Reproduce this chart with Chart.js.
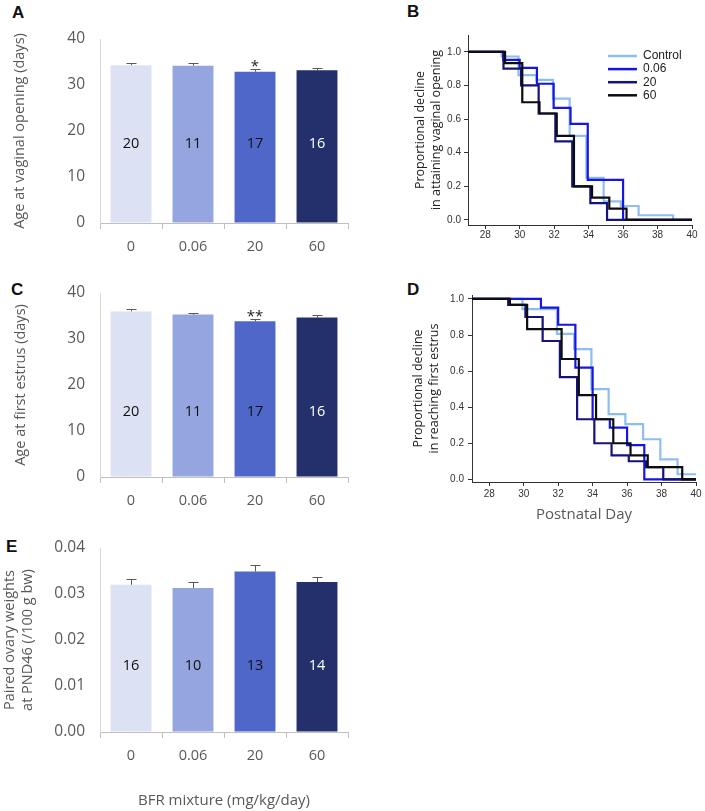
<!DOCTYPE html>
<html>
<head>
<meta charset="utf-8">
<script src="https://cdn.jsdelivr.net/npm/chart.js@4.4.0/dist/chart.umd.min.js"></script>
<style>
    body { margin: 0; background: #fff; width: 705px; height: 811px; position: relative; overflow: hidden; }
    .panel { position: absolute; }
    .tag { position: absolute; font: bold 17px "Liberation Sans", Arial, sans-serif; line-height: 17px; color: #111; }
</style>
</head>
<body>
<div class="tag" style="left:12px;top:4px">A</div>
<div class="tag" style="left:407px;top:3px">B</div>
<div class="tag" style="left:11px;top:281px">C</div>
<div class="tag" style="left:407px;top:281px">D</div>
<div class="tag" style="left:6px;top:538px">E</div>

<div class="panel" style="left:0;top:0"><canvas id="chartA" width="360" height="265"></canvas></div>
<div class="panel" style="left:380px;top:0"><canvas id="chartB" width="325" height="260"></canvas></div>
<div class="panel" style="left:0;top:250px"><canvas id="chartC" width="360" height="269"></canvas></div>
<div class="panel" style="left:380px;top:270px"><canvas id="chartD" width="325" height="270"></canvas></div>
<div class="panel" style="left:0;top:505px"><canvas id="chartE" width="360" height="306"></canvas></div>

<script>
// Dose groups (BFR mixture, mg/kg/day)
const categories = ['0', '0.06', '20', '60'];
const groups = ['Control', '0.06', '20', '60'];

// Bar panels: mean, upper error, n per group, significance marks
const vaginalOpening = [34.3, 34.2, 32.9, 33.2];
const vaginalOpeningErr = [0.55, 0.55, 0.5, 0.45];
const vaginalOpeningN = [20, 11, 17, 16];
const vaginalOpeningSig = ['', '', '*', ''];

const firstEstrus = [36.0, 35.3, 33.85, 34.65];
const firstEstrusErr = [0.5, 0.35, 0.5, 0.55];
const firstEstrusN = [20, 11, 17, 16];
const firstEstrusSig = ['', '', '**', ''];

const ovaryWeight = [0.0320, 0.0313, 0.0349, 0.0326];
const ovaryWeightErr = [0.0013, 0.0014, 0.0015, 0.0012];
const ovaryWeightN = [16, 10, 13, 14];
const ovaryWeightSig = ['', '', '', ''];

// Tick labels
const ageTicks = [0, 10, 20, 30, 40];
const ovaryTicks = [0, 0.01, 0.02, 0.03, 0.04];
const dayTicks = [28, 30, 32, 34, 36, 38, 40];
const propTicks = [0, 0.2, 0.4, 0.6, 0.8, 1.0];

// Survival curves, vaginal opening (panel B): day of event, proportion remaining
const voDaysCtrl = [27, 28.95, 29.93, 30.97, 31.93, 32.9, 33.87, 34.87, 35.87, 36.9, 38.9, 40];
const voSurvCtrl = [1, 0.972, 0.861, 0.833, 0.722, 0.5, 0.25, 0.111, 0.083, 0.028, 0, 0];
const voDaysLow = [27, 29.05, 30.0, 31.0, 31.97, 32.95, 33.95, 36.0, 40];
const voSurvLow = [1, 0.952, 0.905, 0.81, 0.667, 0.571, 0.238, 0, 0];
const voDaysMid = [27, 29.06, 30.08, 31.1, 32.07, 33.05, 34.1, 35.07, 40];
const voSurvMid = [1, 0.9, 0.8, 0.633, 0.467, 0.2, 0.1, 0, 0];
const voDaysHigh = [27, 29.15, 30.15, 31.15, 32.15, 33.15, 34.2, 35.2, 36.2, 40];
const voSurvHigh = [1, 0.933, 0.7, 0.633, 0.5, 0.2, 0.133, 0.067, 0, 0];

// Survival curves, first estrus (panel D)
const feDaysCtrl = [27, 29.93, 31.93, 32.93, 33.93, 34.93, 35.9, 36.93, 37.93, 38.93, 40];
const feSurvCtrl = [1, 0.944, 0.806, 0.722, 0.5, 0.361, 0.306, 0.222, 0.111, 0.028, 0.028];
const feDaysLow = [27, 31.0, 32.0, 33.0, 34.0, 35.0, 36.0, 37.0, 40];
const feSurvLow = [1, 0.952, 0.857, 0.619, 0.333, 0.286, 0.19, 0, 0];
const feDaysMid = [27, 29.1, 30.1, 31.1, 32.1, 33.1, 34.1, 35.1, 36.1, 37.1, 38.1, 40];
const feSurvMid = [1, 0.967, 0.9, 0.767, 0.567, 0.333, 0.2, 0.133, 0.1, 0.067, 0, 0];
const feDaysHigh = [27, 29.2, 30.2, 32.2, 33.2, 34.2, 35.2, 36.2, 37.2, 39.2, 40];
const feSurvHigh = [1, 0.967, 0.833, 0.667, 0.467, 0.333, 0.2, 0.133, 0.067, 0, 0];

// Styles
const barColors = ['#dce1f3', '#95a5df', '#4f67c8', '#23306b'];
const countColors = ['#111', '#111', '#111', '#fff'];
const kmColors = ['#8dbdf1', '#1616e4', '#14147c', '#0d0d0d'];
const FONT = '"Open Sans", sans-serif';
const GREY = '#595959';

// error bars, n inside the bars and significance stars
const barExtras = (errors, counts, marks, countAt) => ({
    id: 'barExtras',
    afterDatasetsDraw(chart) {
        const { ctx, scales: { y } } = chart;
        const values = chart.data.datasets[0].data;
        ctx.save();
        chart.getDatasetMeta(0).data.forEach((bar, i) => {
            const base = y.getPixelForValue(values[i]);
            const top = Math.round(y.getPixelForValue(values[i] + errors[i])) + 0.5;
            const cx = Math.round(bar.x) + 0.5;
            ctx.strokeStyle = GREY;
            ctx.lineWidth = 1;
            ctx.beginPath();
            ctx.moveTo(cx, base);
            ctx.lineTo(cx, top);
            ctx.moveTo(cx - 5, top);
            ctx.lineTo(cx + 5, top);
            ctx.stroke();

            ctx.font = '14.5px ' + FONT;
            ctx.textAlign = 'center';
            ctx.textBaseline = 'middle';
            ctx.fillStyle = countColors[i];
            ctx.fillText(String(counts[i]), bar.x, y.getPixelForValue(countAt));

            if (marks[i]) {
                ctx.fillStyle = '#222';
                ctx.textBaseline = 'alphabetic';
                ctx.font = '15px ' + FONT;
                ctx.fillText(marks[i], bar.x, top + 1);
            }
        });
        ctx.restore();
    }
});

const makeBar = (id, cfg) => new Chart(document.getElementById(id), {
    type: 'bar',
    data: {
        labels: categories,
        datasets: [{
            data: cfg.values,
            backgroundColor: barColors,
            borderWidth: 0,
            barPercentage: 0.66,
            categoryPercentage: 1
        }]
    },
    options: {
        responsive: false,
        animation: false,
        layout: { padding: { top: cfg.top, right: 12, left: 0, bottom: 0 } },
        plugins: { legend: { display: false }, tooltip: { enabled: false } },
        scales: {
            x: {
                grid: { offset: true, drawOnChartArea: false, tickLength: 6, color: '#bfbfbf' },
                border: { color: '#bfbfbf' },
                ticks: { color: GREY, font: { family: FONT, size: 14.5 }, padding: 9 },
                title: cfg.xTitle
                    ? { display: true, text: cfg.xTitle, color: GREY, font: { family: FONT, size: 15 }, padding: { top: 0, bottom: 1 } }
                    : { display: false },
                afterFit: (s) => { s.height = cfg.xHeight; }
            },
            y: {
                min: cfg.ticks[0],
                max: cfg.ticks[cfg.ticks.length - 1],
                afterBuildTicks: (s) => { s.ticks = cfg.ticks.map(v => ({ value: v })); },
                grid: { drawOnChartArea: false, drawTicks: false },
                border: { color: '#d9d9d9' },
                ticks: { color: GREY, font: { family: FONT, size: 15.5 }, padding: 15, callback: (v) => cfg.fmt(v) },
                title: {
                    display: true, text: cfg.yTitle, color: GREY,
                    font: { family: FONT, size: 14.5, lineHeight: 1.25 },
                    padding: { top: cfg.titlePad, bottom: 0 }
                },
                afterFit: (s) => { s.width = 100; }
            }
        }
    },
    plugins: [barExtras(cfg.errors, cfg.counts, cfg.marks, cfg.countAt)]
});

// legend drawn inside the plot area of panel B
const kmLegend = (x, y, gap) => ({
    id: 'kmLegend',
    afterDraw(chart) {
        const { ctx } = chart;
        ctx.save();
        ctx.font = '12px "Liberation Sans", Arial, sans-serif';
        ctx.textBaseline = 'middle';
        ctx.textAlign = 'left';
        groups.forEach((g, i) => {
            const yy = y + i * gap;
            ctx.strokeStyle = kmColors[i];
            ctx.lineWidth = 2.5;
            ctx.beginPath();
            ctx.moveTo(x, yy);
            ctx.lineTo(x + 29, yy);
            ctx.stroke();
            ctx.fillStyle = '#222';
            ctx.fillText(g, x + 35, yy);
        });
        ctx.restore();
    }
});

const makeKM = (id, cfg) => {
    // last group first so the black curve is painted on top
    const datasets = cfg.curves.map((c, i) => ({
        label: groups[i],
        data: c[0].map((t, k) => ({ x: t, y: c[1][k] })),
        borderColor: kmColors[i],
        borderWidth: 2.2,
        stepped: 'before',
        pointRadius: 0,
        fill: false
    })).reverse();

    return new Chart(document.getElementById(id), {
        type: 'line',
        data: { datasets },
        options: {
            responsive: false,
            animation: false,
            layout: { padding: { top: cfg.top, right: cfg.right, left: 0, bottom: 0 } },
            plugins: { legend: { display: false }, tooltip: { enabled: false } },
            scales: {
                x: {
                    type: 'linear', min: 27, max: 40,
                    afterBuildTicks: (s) => { s.ticks = dayTicks.map(v => ({ value: v })); },
                    grid: { drawOnChartArea: false, tickLength: 4, color: '#333' },
                    border: { color: '#333', width: 1 },
                    ticks: { color: '#333', font: { family: '"Liberation Sans", Arial', size: 10 }, padding: cfg.xPad, maxRotation: 0 },
                    title: cfg.xTitle
                        ? { display: true, text: cfg.xTitle, color: GREY, font: { family: FONT, size: 15 }, padding: { top: 0, bottom: 16 } }
                        : { display: false },
                    afterFit: (s) => { s.height = cfg.xHeight; }
                },
                y: {
                    min: cfg.yMin, max: cfg.yMax,
                    afterBuildTicks: (s) => { s.ticks = propTicks.map(v => ({ value: v })); },
                    grid: { drawOnChartArea: false, tickLength: 4, color: '#333' },
                    border: { color: '#333', width: 1 },
                    ticks: { color: '#333', font: { family: '"Liberation Sans", Arial', size: 10 }, padding: cfg.yPad, callback: (v) => Number(v).toFixed(1) },
                    title: {
                        display: true, text: cfg.yTitle, color: '#222',
                        font: { family: FONT, size: 12.5, lineHeight: 1.3 },
                        padding: { top: cfg.titlePad, bottom: 0 }
                    },
                    afterFit: (s) => { s.width = cfg.yWidth; }
                }
            }
        },
        plugins: cfg.legend ? [kmLegend(228, 56, 13.1)] : []
    });
};

makeBar('chartA', {
    values: vaginalOpening, errors: vaginalOpeningErr, counts: vaginalOpeningN, marks: vaginalOpeningSig,
    ticks: ageTicks, fmt: (v) => String(v), countAt: 17.2,
    yTitle: 'Age at vaginal opening (days)', titlePad: 11,
    top: 39, xHeight: 42
});

makeBar('chartC', {
    values: firstEstrus, errors: firstEstrusErr, counts: firstEstrusN, marks: firstEstrusSig,
    ticks: ageTicks, fmt: (v) => String(v), countAt: 14.1,
    yTitle: 'Age at first estrus (days)', titlePad: 12,
    top: 43, xHeight: 42
});

makeBar('chartE', {
    values: ovaryWeight, errors: ovaryWeightErr, counts: ovaryWeightN, marks: ovaryWeightSig,
    ticks: ovaryTicks, fmt: (v) => Number(v).toFixed(2), countAt: 0.0143,
    yTitle: ['Paired ovary weights', 'at PND46 (/100 g bw)'], titlePad: 1,
    xTitle: 'BFR mixture (mg/kg/day)',
    top: 43, xHeight: 79
});

makeKM('chartB', {
    curves: [[voDaysCtrl, voSurvCtrl], [voDaysLow, voSurvLow], [voDaysMid, voSurvMid], [voDaysHigh, voSurvHigh]],
    yTitle: ['Proportional decline', 'in attaining vaginal opening'], titlePad: 32,
    yMin: -0.03, yMax: 1.1, yWidth: 88, yPad: 3,
    top: 35, right: 13, xHeight: 35, xPad: 0,
    legend: true
});

makeKM('chartD', {
    curves: [[feDaysCtrl, feSurvCtrl], [feDaysLow, feSurvLow], [feDaysMid, feSurvMid], [feDaysHigh, feSurvHigh]],
    yTitle: ['Proportional decline', 'in reaching first estrus'], titlePad: 30,
    yMin: -0.015, yMax: 1.022, yWidth: 92, yPad: 4,
    top: 25, right: 9, xHeight: 58, xPad: 2,
    xTitle: 'Postnatal Day',
    legend: false
});
</script>
</body>
</html>
